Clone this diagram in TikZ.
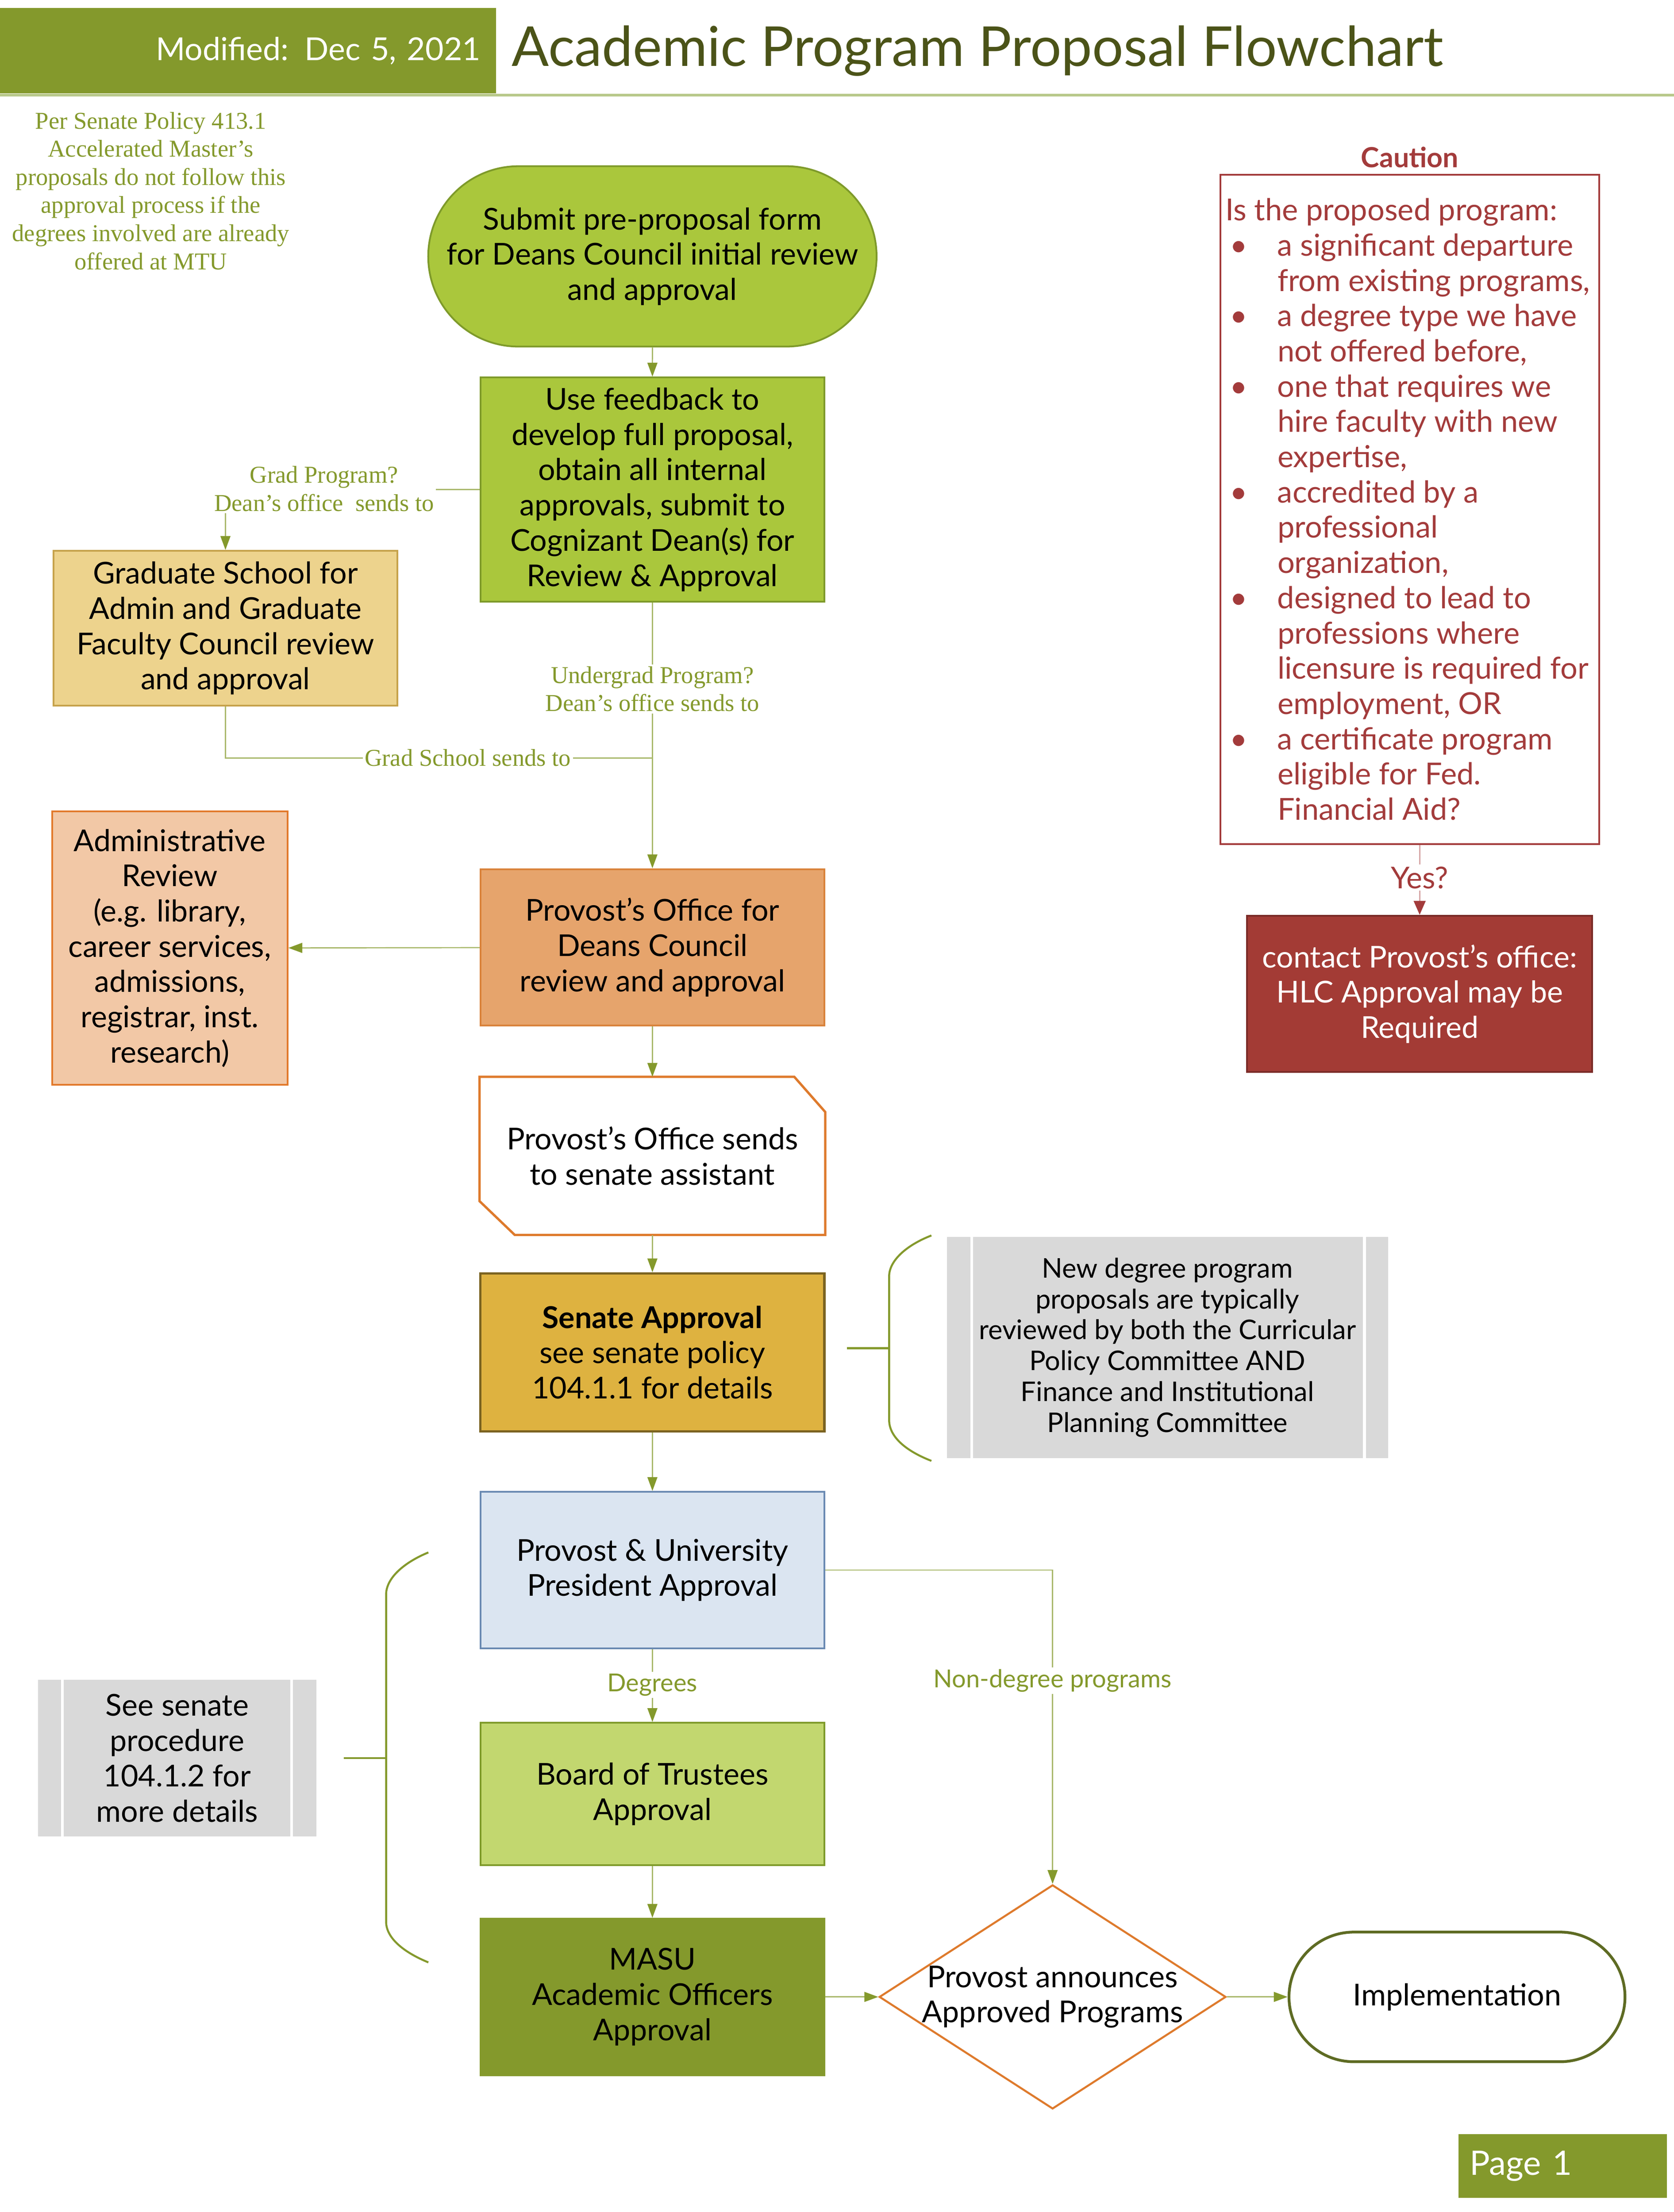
\documentclass[tikz,border=0pt]{standalone}
\usepackage{fontspec}
\setmainfont{Lato}
\newfontfamily\notefont{Liberation Serif}
\usetikzlibrary{positioning}
\usetikzlibrary{arrows.meta,shapes.geometric,shapes.misc}

\definecolor{mtugreen}{HTML}{84992C}
\definecolor{titlegreen}{HTML}{4B5318}
\definecolor{headline}{HTML}{B8C98A}
\definecolor{limefill}{HTML}{AAC73C}
\definecolor{limedraw}{HTML}{7E9A2A}
\definecolor{tanfill}{HTML}{EDD38D}
\definecolor{tandraw}{HTML}{C6A24B}
\definecolor{provfill}{HTML}{E6A46C}
\definecolor{provdraw}{HTML}{D9823A}
\definecolor{peachfill}{HTML}{F2C8A6}
\definecolor{peachdraw}{HTML}{E27A2C}
\definecolor{orangedraw}{HTML}{DE7A2C}
\definecolor{goldfill}{HTML}{DEB240}
\definecolor{golddraw}{HTML}{7B6321}
\definecolor{bluefill}{HTML}{DBE5F1}
\definecolor{bluedraw}{HTML}{6A8AB2}
\definecolor{boardfill}{HTML}{C2D76F}
\definecolor{grayfill}{HTML}{D9D9D9}
\definecolor{cautionred}{HTML}{A33B3B}
\definecolor{hlcfill}{HTML}{A33B35}
\definecolor{hlcdraw}{HTML}{7A2B27}
\definecolor{impdraw}{HTML}{5E6B23}

\newcommand{\boxfont}{\fontsize{15.2}{17.8}\selectfont}
\newcommand{\cbul}{\makebox[0.925cm][l]{\hspace{0.08cm}\textbullet}}
\newcommand{\cind}{\hspace*{0.925cm}}

\begin{document}
\begin{tikzpicture}[x=0.025cm,y=-0.025cm,
	line/.style={draw=mtugreen!70,line width=0.6pt},
	flow/.style={line,-{Triangle[length=7pt,width=5pt,color=mtugreen]}},
	box/.style={draw,line width=0.9pt,minimum width=6.1cm,minimum height=2.775cm,align=center,font=\boxfont,inner sep=2pt},
	pill/.style={rounded rectangle,draw,line width=0.9pt,align=center,font=\boxfont,inner sep=2pt},
	note/.style={align=center,font=\notefont\fontsize{12.2}{14.2}\selectfont,text=mtugreen,fill=white,inner sep=1pt},
	tag/.style={align=center,font=\fontsize{12.5}{15}\selectfont,text=mtugreen,fill=white,inner sep=1pt},
	graynote/.style={fill=grayfill,align=center,inner sep=0pt},
	stripe/.style={draw=white,line width=1.4pt},
	brace/.style={draw=mtugreen,line width=1pt}]
	\useasboundingbox (0,0) rectangle (1188,1570.2);

	% header
	\node [fill=mtugreen,minimum width=8.8cm,minimum height=1.52cm,text width=8.25cm,inner xsep=0.275cm,align=right,text=white,font=\fontsize{16}{19}\selectfont] (modbar) at (176,36) {Modified: Dec 5, 2021};
	\node [anchor=base west,text=titlegreen,font=\fontsize{27.8}{32}\selectfont,inner sep=0pt] (title) at (363,47) {Academic Program Proposal Flowchart};
	\draw [draw=headline,line width=1.2pt] (0,67.5) -- (1188,67.5);

	\node [note,fill=none] (mtunote) at (107,135.5) {Per Senate Policy 413.1\\Accelerated Master’s\\proposals do not follow this\\approval process if the\\degrees involved are already\\offered at MTU};

	% main column
	\node [pill,fill=limefill,draw=limedraw,minimum width=7.875cm,minimum height=3.2cm] (submit) at (463,182) {Submit pre-proposal form\\for Deans Council initial review\\and approval};
	\node [box,fill=limefill,draw=limedraw,minimum height=3.975cm] (usefb) at (463,347.5) {Use feedback to\\develop full proposal,\\obtain all internal\\approvals, submit to\\Cognizant Dean(s) for\\Review \& Approval};
	\node [box,fill=tanfill,draw=tandraw,minimum height=2.75cm] (grad) at (160,446) {Graduate School for\\Admin and Graduate\\Faculty Council review\\and approval};
	\node [box,fill=provfill,draw=provdraw] (provost) at (463,672.5) {Provost’s Office for\\Deans Council\\review and approval};
	\node [box,fill=peachfill,draw=peachdraw,minimum width=4.175cm,minimum height=4.85cm] (admin) at (120.5,673) {Administrative\\Review\\(e.g. library,\\career services,\\admissions,\\registrar, inst.\\research)};
	\node [box,draw=none] (sends) at (463,820.5) {Provost’s Office sends\\to senate assistant};
	\draw [draw=orangedraw,line width=1.2pt] (sends.north west) -- ([xshift=-0.55cm]sends.north east) -- ([yshift=-0.625cm]sends.north east) -- (sends.south east) -- ([xshift=0.625cm]sends.south west) -- ([yshift=0.6cm]sends.south west) -- cycle;
	\node [box,fill=goldfill,draw=golddraw,line width=1.2pt,minimum height=2.8cm] (senate) at (463,960) {\textbf{Senate Approval}\\see senate policy\\104.1.1 for details};
	\node [box,fill=bluefill,draw=bluedraw] (pres) at (463,1114.5) {Provost \& University\\President Approval};
	\node [box,fill=boardfill,draw=limedraw,minimum height=2.525cm] (board) at (463,1273.5) {Board of Trustees\\Approval};
	\node [box,fill=mtugreen,draw=mtugreen] (masu) at (463,1417.5) {MASU\\Academic Officers\\Approval};
	\node [diamond,draw=orangedraw,line width=1pt,fill=white,minimum width=6.15cm,minimum height=3.975cm,inner sep=0pt,label={[font=\boxfont,align=center]center:Provost announces\\Approved Programs}] (announce) at (747,1417.5) {};
	\node [pill,draw=impdraw,line width=1.4pt,fill=white,minimum width=6.1cm,minimum height=2.3cm] (impl) at (1034,1417.5) {Implementation};

	% side notes and braces
	\node [graynote,minimum width=7.825cm,minimum height=3.925cm,font=\fontsize{13.7}{15.6}\selectfont] (curnote) at (828.5,956.5) {New degree program\\proposals are typically\\reviewed by both the Curricular\\Policy Committee AND\\Finance and Institutional\\Planning Committee};
	\draw [stripe] ([xshift=0.45cm]curnote.north west) -- ([xshift=0.45cm]curnote.south west);
	\draw [stripe] ([xshift=-0.425cm]curnote.north east) -- ([xshift=-0.425cm]curnote.south east);
	\draw [brace] (661,877) .. controls (643,884) and (631,895) .. (631,906) -- (631,1008) .. controls (631,1020) and (643,1030) .. (661,1037);
	\draw [brace] (601,957) -- (631,957);

	\node [graynote,minimum width=4.94cm,minimum height=2.775cm,font=\boxfont] (procnote) at (125.75,1248) {See senate\\procedure\\104.1.2 for\\more details};
	\draw [stripe] ([xshift=0.44cm]procnote.north west) -- ([xshift=0.44cm]procnote.south west);
	\draw [stripe] ([xshift=-0.45cm]procnote.north east) -- ([xshift=-0.45cm]procnote.south east);
	\draw [brace] (304,1102) .. controls (287,1109) and (274,1120) .. (274,1132) -- (274,1364) .. controls (274,1376) and (287,1386) .. (304,1393);
	\draw [brace] (244,1248) -- (274,1248);

	% caution
	\node [draw=cautionred,line width=0.9pt,minimum width=6.725cm,minimum height=11.875cm] (caution) at (1000.5,361.5) {};
	\node [above=0.1cm of caution,font=\fontsize{14}{17}\selectfont\bfseries,text=cautionred,inner sep=0pt] (cautiontitle) {Caution};
	\node [anchor=west,align=left,font=\fontsize{15.3}{17.8}\selectfont,text=cautionred,inner sep=0pt] (cautiontext) at ([xshift=0.1cm]caution.west) {Is the proposed program:\\ \cbul a significant departure\\ \cind from existing programs,\\ \cbul a degree type we have\\ \cind not offered before,\\ \cbul one that requires we\\ \cind hire faculty with new\\ \cind expertise,\\ \cbul accredited by a\\ \cind professional\\ \cind organization,\\ \cbul designed to lead to\\ \cind professions where\\ \cind licensure is required for\\ \cind employment, OR\\ \cbul a certificate program\\ \cind eligible for Fed.\\ \cind Financial Aid?};
	\node [box,fill=hlcfill,draw=hlcdraw,text=white,minimum width=6.125cm] (hlc) at (1007.5,705.5) {contact Provost’s office:\\HLC Approval may be\\Required};

	\node [fill=mtugreen,minimum width=3.7cm,minimum height=1.125cm,text width=3.3cm,inner xsep=0.2cm,align=left,text=white,font=\fontsize{17}{20}\selectfont] (page) at (1109,1537.5) {Page 1};

	% connectors
	\draw [flow] (submit) -- (usefb);
	\draw [flow] (usefb.west) -| (grad.north);
	\node [note] (gradq) at (230,347) {Grad Program?\\Dean’s office\ \ sends to};
	\draw [flow] (usefb) -- (provost);
	\node [note] (ugradq) at (463,489) {Undergrad Program?\\Dean’s office sends to};
	\coordinate (gradjoin) at (463,538);
	\draw [line] (grad.south) |- (gradjoin);
	\node [note] (gradsends) at (332,538) {Grad School sends to};
	\draw [flow] (provost) -- (admin);
	\draw [flow] (provost) -- (sends);
	\draw [flow] (sends) -- (senate);
	\draw [flow] (senate) -- (pres);
	\draw [flow] (pres) -- (board);
	\node [tag] (degrees) at (463,1196) {Degrees};
	\draw [flow] (board) -- (masu);
	\draw [flow] (masu) -- (announce);
	\draw [flow] (pres.east) -| (announce.north);
	\node [tag] (nondeg) at (747,1193) {Non-degree programs};
	\draw [flow] (announce) -- (impl);

	\draw [draw=cautionred!45,line width=0.6pt,-{Triangle[length=7pt,width=6pt,color=cautionred]}] (caution.south -| hlc.north) -- (hlc.north);
	\node [font=\boxfont,text=cautionred,fill=white,inner sep=1pt] (yes) at (1007.5,623) {Yes?};
\end{tikzpicture}
\end{document}
